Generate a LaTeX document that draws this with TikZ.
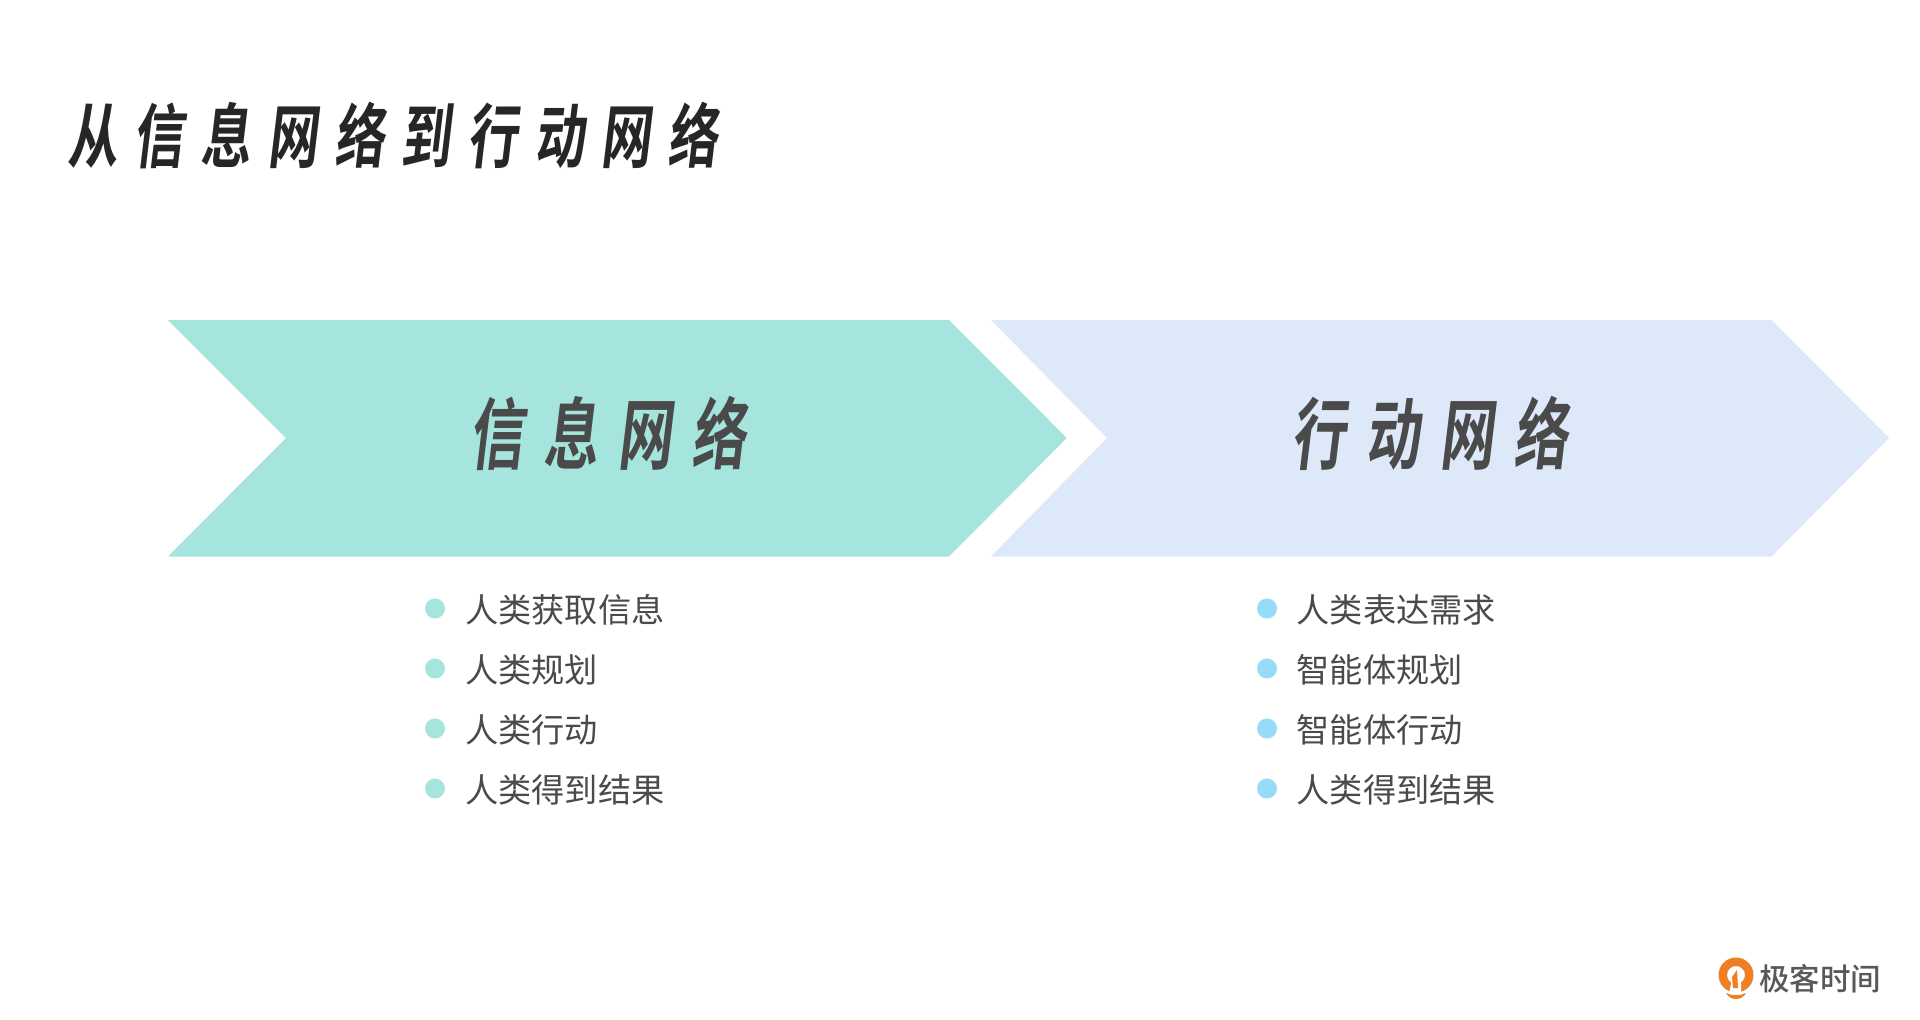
\documentclass[tikz,border=0pt]{standalone}
\usepackage{fontspec}
\newfontfamily\bodyf{Noto Sans CJK SC}
\newfontfamily\logof{Noto Sans CJK SC Medium}
\newfontfamily\titlef[FakeStretch=0.72,FakeSlant=0.12,LetterSpace=23.3]{Noto Sans CJK SC Bold}
\newfontfamily\headf[FakeStretch=0.70,FakeSlant=0.12,LetterSpace=24.9]{Noto Sans CJK SC Bold}
\definecolor{tealc}{HTML}{A5E5DE}
\definecolor{bluec}{HTML}{DDE8F9}
\definecolor{dotb}{HTML}{96DCF8}
\definecolor{txt}{HTML}{4A4A4A}
\definecolor{orangec}{HTML}{EE7F22}
\tikzset{
  x=1pt,y=-1pt,
  title/.style={anchor=west,inner sep=0pt,text=black!85,font=\titlef\fontsize{70}{72}\selectfont},
  head/.style={anchor=west,inner sep=0pt,text=txt,font=\headf\fontsize{78}{80}\selectfont},
  item/.style={anchor=west,inner sep=0pt,text=txt,font=\bodyf\fontsize{33.2}{36}\selectfont},
  dot/.style={circle,inner sep=0pt,minimum size=20pt},
}
\begin{document}
\begin{tikzpicture}
\useasboundingbox[fill=white] (0,0) rectangle (1920,1020);
\node[title] (t) at (67,135.5) {从信息网络到行动网络};
\fill[tealc] (168,320) -- (949,320) -- (1066.7,438) -- (949,556.5) -- (168,556.5) -- (286,438) -- cycle;
\fill[bluec] (991,320) -- (1771.5,320) -- (1889,438) -- (1771.5,556.5) -- (991,556.5) -- (1107,438) -- cycle;
\node[head] (h1) at (469,433) {信息网络};
\node[head] (h2) at (1291,433) {行动网络};
\foreach \yy/\a/\b in {608.5/人类获取信息/人类表达需求,668.5/人类规划/智能体规划,728.5/人类行动/智能体行动,788.5/人类得到结果/人类得到结果}{
  \node[dot,fill=tealc] at (435,\yy) {};
  \node[item] at (465,\yy+1) {\a};
  \node[dot,fill=dotb] at (1267,\yy) {};
  \node[item] at (1296.5,\yy+1) {\b};
}
% logo
\fill[orangec,even odd rule] (1736,975) circle (17.5) (1736,975) circle (9);
\fill[white] (1733,975) -- (1741,975) -- (1741,993) -- (1729,993) -- cycle;
\fill[orangec] (1732,977) -- (1737,970) -- (1738,988) -- (1733,988) -- cycle;
\fill[orangec] (1726,993) .. controls (1732,996) and (1740,996) .. (1746,993) .. controls (1742,1001) and (1730,1001) .. (1726,993) -- cycle;
\node[anchor=west,inner sep=0pt,text=black!65,font=\logof\fontsize{30.5}{32}\selectfont] (logo) at (1759,979) {极客时间};
\end{tikzpicture}
\end{document}
